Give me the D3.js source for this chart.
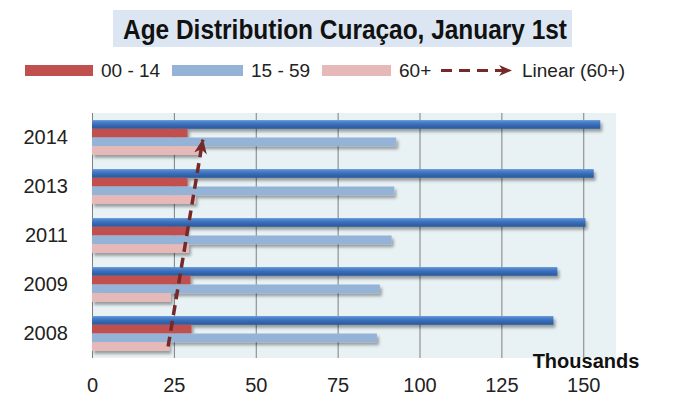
<!DOCTYPE html>
<html>
<head>
<meta charset="utf-8">
<script src="https://cdn.jsdelivr.net/npm/d3@7"></script>
<style>
  body { margin: 0; background: #fff; }
  svg { display: block; }
</style>
</head>
<body>
<script>
// categories, top to bottom as drawn
const years = ['2014', '2013', '2011', '2009', '2008']
// thousands of inhabitants
const total = [155.2, 153.2, 150.7, 142.1, 140.9]
const age0014 = [29.2, 29.2, 29.1, 30.1, 30.4]
const age1559 = [92.9, 92.3, 91.5, 87.9, 87.0]
const age60 = [32.4, 31.6, 29.6, 24.1, 23.6]
const xTicks = [0, 25, 50, 75, 100, 125, 150]

const width = 678
const height = 414
const plot = { left: 92, right: 616, top: 113, bottom: 358 }

const svg = d3.select('body').append('svg')
  .attr('width', width)
  .attr('height', height)
  .style('font-family', '"Liberation Sans", Arial, sans-serif')

const defs = svg.append('defs')
const grad = defs.append('linearGradient')
  .attr('id', 'totalGrad')
  .attr('x1', 0).attr('y1', 0).attr('x2', 0).attr('y2', 1)
grad.append('stop').attr('offset', '0%').attr('stop-color', '#5f93d8')
grad.append('stop').attr('offset', '45%').attr('stop-color', '#3b70bd')
grad.append('stop').attr('offset', '100%').attr('stop-color', '#2a5898')

defs.append('filter')
  .attr('id', 'shadow')
  .attr('x', '-5%').attr('y', '-60%').attr('width', '115%').attr('height', '260%')
  .append('feDropShadow')
  .attr('dx', 2).attr('dy', 3).attr('stdDeviation', 1.6)
  .attr('flood-color', '#000').attr('flood-opacity', 0.35)

function arrowMarker (id, w, h) {
  defs.append('marker')
    .attr('id', id)
    .attr('viewBox', '0 0 14 12')
    .attr('refX', 13).attr('refY', 6)
    .attr('markerWidth', w).attr('markerHeight', h)
    .attr('markerUnits', 'userSpaceOnUse')
    .attr('orient', 'auto')
    .append('path')
    .attr('d', 'M0,0 L14,6 L0,12 L4,6 Z')
    .attr('fill', '#772828')
}
arrowMarker('arrowPlot', 15, 13)
arrowMarker('arrowLegend', 20, 11)

// title (narrow bold look: squeeze to the reference width)
svg.append('rect')
  .attr('x', 113).attr('y', 10).attr('width', 459).attr('height', 37)
  .attr('fill', '#dce6f2')
svg.append('text')
  .attr('x', 123).attr('y', 39)
  .attr('textLength', 444)
  .attr('lengthAdjust', 'spacingAndGlyphs')
  .style('font-weight', 'bold')
  .style('font-size', '28px')
  .attr('fill', '#111')
  .text('Age Distribution Curaçao, January 1st')

// legend
const legend = svg.append('g').style('font-size', '19px').attr('fill', '#222')
const swatches = [
  { x: 25, w: 68, color: '#c0504d', label: '00 - 14' },
  { x: 172, w: 71, color: '#95b3d7', label: '15 - 59' },
  { x: 322, w: 69, color: '#e6b9b8', label: '60+' }
]
swatches.forEach(function (s) {
  legend.append('rect')
    .attr('x', s.x).attr('y', 65).attr('width', s.w).attr('height', 11)
    .attr('fill', s.color)
  legend.append('text')
    .attr('x', s.x + s.w + 8).attr('y', 77)
    .text(s.label)
})
legend.append('line')
  .attr('x1', 441).attr('y1', 70.5).attr('x2', 511).attr('y2', 70.5)
  .attr('stroke', '#772828').attr('stroke-width', 3)
  .attr('stroke-dasharray', '11,7')
  .attr('marker-end', 'url(#arrowLegend)')
legend.append('text')
  .attr('x', 522).attr('y', 77)
  .text('Linear (60+)')

// scales
const x = d3.scaleLinear().domain([0, 160]).range([plot.left, plot.right])
const y = d3.scaleBand().domain(years).range([plot.top, plot.bottom])
  .paddingInner(0.29).paddingOuter(0.145)
const series = ['total', 'a', 'b', 'c']
const ySub = d3.scaleBand().domain(series).range([0, y.bandwidth()])

svg.append('rect')
  .attr('x', plot.left).attr('y', plot.top)
  .attr('width', plot.right - plot.left).attr('height', plot.bottom - plot.top)
  .attr('fill', '#e8f2f5')

// grid lines
svg.append('g')
  .attr('transform', 'translate(0,' + plot.bottom + ')')
  .call(d3.axisBottom(x).tickValues(xTicks).tickSize(plot.bottom - plot.top).tickFormat(''))
  .call(g => g.select('.domain').remove())
  .call(g => g.selectAll('.tick line')
    .attr('y2', -(plot.bottom - plot.top))
    .attr('stroke', '#7f7f7f'))

// x tick labels
svg.append('g')
  .attr('transform', 'translate(0,' + plot.bottom + ')')
  .call(d3.axisBottom(x).tickValues(xTicks).tickSize(0).tickPadding(20))
  .call(g => g.select('.domain').remove())
  .call(g => g.selectAll('text')
    .style('font-size', '20px')
    .style('font-family', '"Liberation Sans", Arial, sans-serif')
    .attr('fill', '#222'))

// y labels
svg.append('g')
  .attr('transform', 'translate(' + plot.left + ',0)')
  .call(d3.axisLeft(y).tickSize(0).tickPadding(24))
  .call(g => g.select('.domain').remove())
  .call(g => g.selectAll('text')
    .style('font-size', '20px')
    .style('font-family', '"Liberation Sans", Arial, sans-serif')
    .attr('fill', '#222'))

svg.append('text')
  .attr('x', 586).attr('y', 368)
  .attr('text-anchor', 'middle')
  .style('font-size', '20px')
  .style('font-weight', 'bold')
  .attr('fill', '#111')
  .text('Thousands')

// bars
const seriesData = [
  { key: 'total', values: total, fill: 'url(#totalGrad)' },
  { key: 'a', values: age0014, fill: '#c0504d' },
  { key: 'b', values: age1559, fill: '#95b3d7' },
  { key: 'c', values: age60, fill: '#e6b9b8' }
]
const bars = svg.append('g').attr('filter', 'url(#shadow)')
seriesData.forEach(function (s) {
  bars.append('g')
    .selectAll('rect')
    .data(years)
    .enter().append('rect')
    .attr('x', x(0))
    .attr('y', (d) => y(d) + ySub(s.key))
    .attr('width', (d, i) => x(s.values[i]) - x(0))
    .attr('height', ySub.bandwidth())
    .attr('fill', s.fill)
})

// linear trend of 60+, categories counted from the bottom (2008 = 1)
const order = years.slice().reverse()
const vals = age60.slice().reverse()
const n = vals.length
const meanT = d3.mean(d3.range(1, n + 1))
const meanV = d3.mean(vals)
const slope = d3.sum(vals, (v, i) => (i + 1 - meanT) * (v - meanV)) /
  d3.sum(vals, (v, i) => (i + 1 - meanT) * (i + 1 - meanT))
const intercept = meanV - slope * meanT
const pinkY = (t) => {
  const c0 = y(order[0]) + ySub('c') + ySub.bandwidth() / 2
  return c0 - (t - 1) * y.step()
}
const tEnd = n + 0.22
svg.append('line')
  .attr('x1', x(intercept + slope)).attr('y1', pinkY(1))
  .attr('x2', x(intercept + slope * tEnd)).attr('y2', pinkY(tEnd))
  .attr('stroke', '#772828').attr('stroke-width', 3.5)
  .attr('stroke-dasharray', '10,6')
  .attr('marker-end', 'url(#arrowPlot)')
</script>
</body>
</html>
